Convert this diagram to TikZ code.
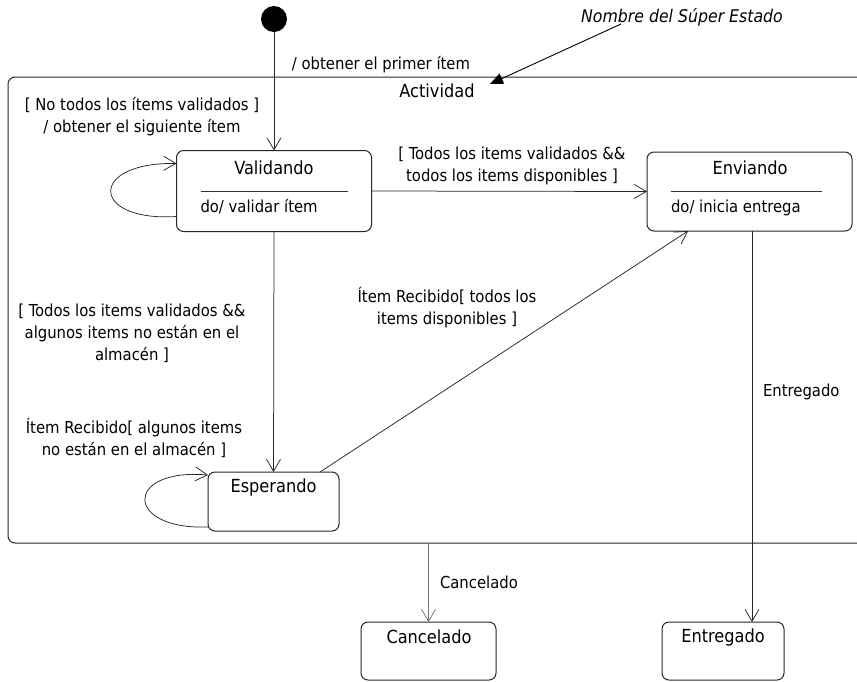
\documentclass[tikz,border=0pt]{standalone}
\usepackage{fontspec}
\setmainfont{DejaVu Sans Condensed}
\usetikzlibrary{arrows.meta,calc}

\begin{document}
\begin{tikzpicture}[x=1pt,y=-1pt,
  every node/.style={inner sep=0pt, outer sep=0pt},
  lbl/.style={font=\fontsize{16.5}{22}\selectfont, align=center},
  ttl/.style={font=\fontsize{18}{22}\selectfont},
  statebox/.style={draw=black!85, line width=1pt, rounded corners=7pt, rectangle},
  trans/.style={draw=black!85, line width=0.75pt, -{Straight Barb[length=12pt,width=14pt,line width=0.75pt]}},
  divider/.style={draw=black!80, line width=0.75pt}
]
\useasboundingbox (0,0) rectangle (857,681);

% composite state
\node[statebox, minimum width=880pt, minimum height=466pt, anchor=north west] (act) at (8,77) {};
\node[ttl] (actT) at (437,91) {Actividad};

% note naming the composite state
\node[font=\fontsize{17.5}{20}\selectfont\itshape] (note) at (682,17) {Nombre del Súper Estado};
\coordinate (noteFrom) at (621,24);
\coordinate (noteTip) at (490,84);
\draw[line width=0.9pt, -{Triangle[length=13pt,width=11pt]}] (noteFrom) -- (noteTip);

% initial pseudo-state
\node[circle, fill=black, minimum size=26pt] (init) at (274,19) {};

% Validando
\node[statebox, minimum width=195pt, minimum height=81pt] (valid) at (274,191) {};
\node[ttl] (validT) at (274,168) {Validando};
\draw[divider] ($(valid.west)+(24,0)$) -- ($(valid.east)+(-24,0)$);
\node[lbl, anchor=west] (validA) at ($(valid.west)+(24,16)$) {do/ validar ítem};

% Enviando
\node[statebox, minimum width=205pt, minimum height=79pt] (envi) at (749.5,191.5) {};
\node[ttl] (enviT) at (750,168) {Enviando};
\draw[divider] ($(envi.west)+(24,0)$) -- ($(envi.east)+(-30,0)$);
\node[lbl, anchor=west] (enviA) at ($(envi.west)+(24,16)$) {do/ inicia entrega};

% Esperando
\node[statebox, minimum width=131pt, minimum height=59pt] (esp) at (273.5,501.5) {};
\node[ttl] (espT) at (273.5,488) {Esperando};

% final states
\node[statebox, minimum width=135pt, minimum height=58pt] (canc) at (428.5,651) {};
\node[ttl] (cancT) at (429,637) {Cancelado};
\node[statebox, minimum width=122pt, minimum height=58pt] (entr) at (723,651) {};
\node[ttl] (entrT) at (723,638) {Entregado};

% transitions
\draw[trans] (init) -- (valid.north);
\node[lbl] (l1) at (381,65) {/ obtener el primer ítem};

\draw[trans] ($(valid.south west)+(0,-15)$) .. controls (90,222) and (88,162) .. ($(valid.north west)+(0,13)$);
\node[lbl] (l2) at (142,117) {[ No todos los ítems validados ]\\/ obtener el siguiente ítem};

\draw[trans] (valid.east) -- (envi.west);
\node[lbl] (l3) at (512,166) {[ Todos los items validados \&\&\\todos los items disponibles ]};

\draw[trans] (valid.south) -- (esp.north);
\node[lbl] (l4) at (132,333) {[ Todos los items validados \&\&\\algunos items no están en el\\almacén ]};

\draw[trans] ($(esp.south west)+(0,-4)$) .. controls (124,530) and (124,468) .. ($(esp.north west)+(0,3)$);
\node[lbl] (l5) at (134,438) {Ítem Recibido[ algunos items\\no están en el almacén ]};

\draw[trans] ($(esp.north east)+(-19,0)$) -- ($(envi.south west)+(41,0)$);
\node[lbl] (l6) at (447,308) {Ítem Recibido[ todos los\\items disponibles ]};

\draw[trans] ($(envi.south west)+(105,0)$) -- ($(entr.north west)+(90,0)$);
\node[lbl, anchor=west] (l7) at (763,392) {Entregado};

\draw[trans, draw=black!55] (canc.north |- act.south) -- (canc.north);
\node[lbl, anchor=west] (l8) at (440,582) {Cancelado};
\end{tikzpicture}
\end{document}
